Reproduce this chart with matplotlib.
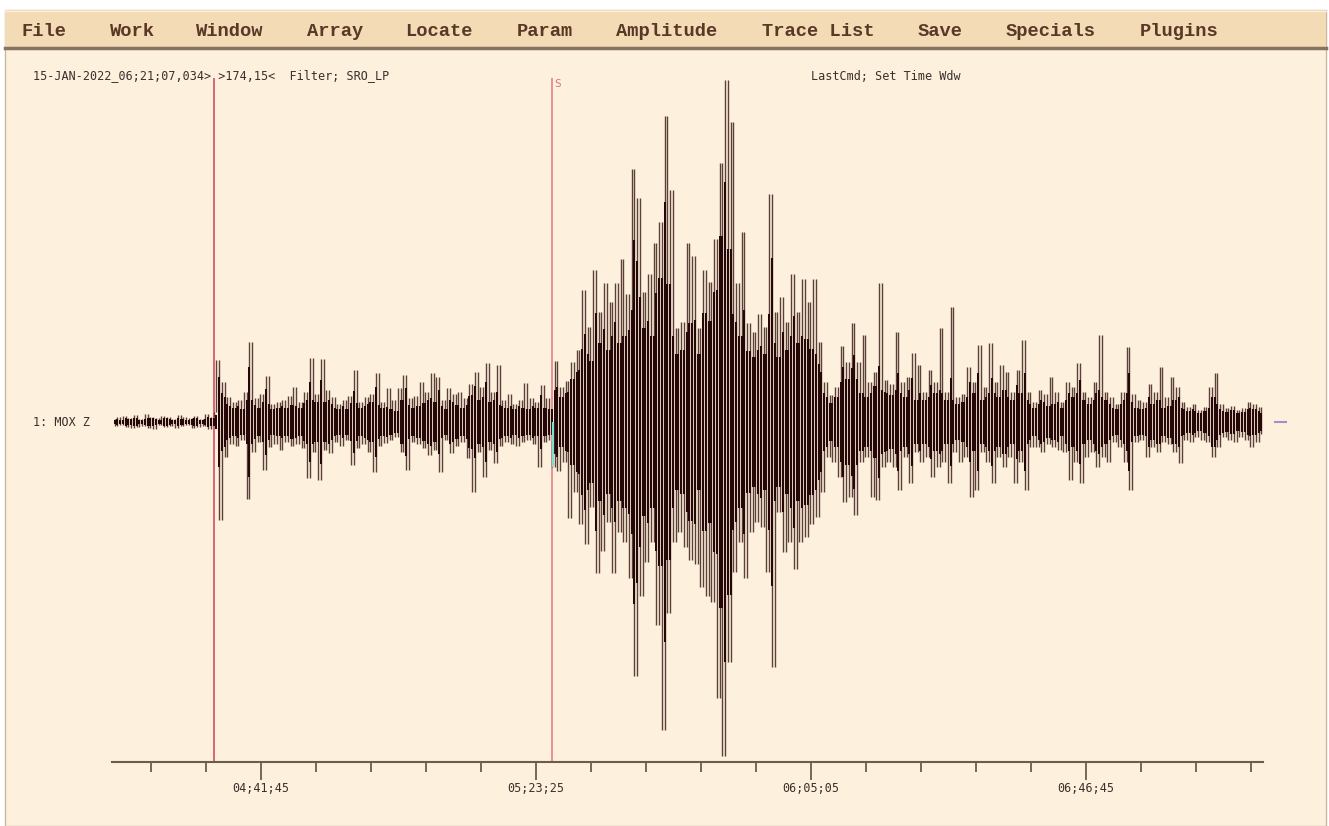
import numpy as np
import matplotlib
matplotlib.use("Agg")
import matplotlib.pyplot as plt
from matplotlib.patches import Rectangle
from matplotlib.lines import Line2D
from matplotlib.ticker import FixedLocator

# ---- data (MOX Z, SRO_LP filtered, amplitude in counts, one sample every 25 s) ----
t_start = 15550          # seconds after midnight (04:19:10)
dt = 25

pre_p = [3, -4, 5, -3, 6, -5, 4, -6, 7, -5, 3, -4, 8, -6, 5, -7, 4, -3, 6, -5,
         5, -4, 3, -6, 7, -4, 5, -3, 4, -6, 6, -5, 3, -4, 8, -7, 5, 10]

p_coda = [62, -98, 40, -35, 25, -22, 20, -24, 22, -18, 30, -77,
          80, -30, 24, -20, 28, -48, 46, -25, 18, -22, 20, -28, 22, -20,
          26, -24, 35, -22, 20, -26, 30, -56, 64, -30, 28, -58, 63, -28,
          32, -31, 25, -20, 18, -24, 22, -18, 26, -43, 52, -26, 20, -22,
          25, -30, 28, -50, 49, -24, 20, -21, 34, -18, 22, -15, 34, -30,
          47, -48, 24, -20, 26, -22, 40, -26, 30, -33, 49, -28, 45, -50,
          22, -18, 34, -31, 28, -24, 30, -20, 24, -36, 38, -70, 50, -30,
          35, -55, 59, -28, 30, -41, 57, -24, 22, -20, 28, -22, 18, -24,
          22, -20, 39, -18, 24, -22, 20, -45, 37, -20, 24, -18]

s_wave = [-45, 61, -49, 35, -40, 41, -96, 60, -70, 72, -102, 132, -122,
          95, -85, 152, -151, 110, -129, 139, -100, 120, -151, 139, -110,
          163, -120, 128, -156, 253, -254, 224, -174, 130, -140, 148, -120,
          179, -203, 200, -308, 306, -191, 232, -120, 94, -110, 100, -125,
          179, -138, 166, -142, 94, -165, 152, -174, 140, -180, 183, -276,
          259, -334, 342, -240, 300, -150, 139, -120, 190, -156, 99, -110,
          90, -100, 108, -105, 95, -150, 228, -245, 110, -90, 125, -130,
          100, -120, 148, -147, 110, -120, 143, -115, 120, -102, 143, -95,
          80, -70, 40, -35, 27, -40, 35, -55, 76, -80, 60, -75, 99, -93]

coda = [60, -40, 87, -35, 40, -75, 50, -78, 139, -45, 42, -40, 38, -45,
        90, -68, 40, -35, 45, -61, 69, -30, 57, -40, 30, -35, 52, -55,
        40, -45, 94, -40, 30, -61, 115, -30, 25, -40, 28, -35, 55, -75,
        40, -68, 77, -30, 35, -40, 79, -61, 40, -35, 57, -45, 50, -35,
        30, -61, 52, -40, 82, -68, 30, -25, 20, -25, 32, -30, 28, -22,
        45, -25, 30, -28, 20, -30, 40, -58, 35, -40, 59, -61, 30, -35,
        25, -30, 40, -45, 87, -35, 30, -40, 25, -20, 18, -25, 30, -40,
        75, -68, 28, -20, 22, -18, 20, -35, 38, -25, 30, -30, 55, -20,
        25, -22, 45, -30, 35, -41, 20, -18, 15, -20, 18, -15, 12, -18,
        15, -20, 35, -35, 49, -25, 18, -15, 14, -18, 16, -20, 12, -15,
        14, -18, 20, -25, 18, -20, 15, -12]

p_time = 16478           # P pick
s_time = 19550           # S pick
major_ticks = [16905, 19405, 21905, 24405]
tick_labels = ['04;41;45', '05;23;25', '06;05;05', '06;46;45']
minor_ticks = [15905, 16405, 17405, 17905, 18405, 18905, 19905, 20405, 20905,
               21405, 22405, 22905, 23405, 23905, 24905, 25405, 25905]

menu_items = ['File', 'Work', 'Window', 'Array', 'Locate', 'Param',
              'Amplitude', 'Trace List', 'Save', 'Specials', 'Plugins']
menu_x = [44, 132, 230, 335, 439, 545, 667, 818, 940, 1051, 1179]

header = '15-JAN-2022_06;21;07,034> >174,15<  Filter; SRO_LP'
last_cmd = 'LastCmd; Set Time Wdw'
trace_name = '1: MOX Z'

# ---- figure ----
W, H = 1329, 826
BG = '#fdf0dd'
fig = plt.figure(figsize=(W / 100, H / 100), dpi=100, facecolor='white')

def fx(px):
    return px / W

def fy(py):
    return 1 - py / H

# window background and menu bar (drawn below the axes)
fig.patches.append(Rectangle((fx(5), 0), fx(1321), 1 - 10 / H, transform=fig.transFigure,
                             facecolor=BG, edgecolor='#c8b8a0', lw=1, zorder=-3))
fig.patches.append(Rectangle((fx(5), fy(48)), fx(1321), 38 / H, transform=fig.transFigure,
                             facecolor='#f3dbb6', edgecolor='none', zorder=-2))
fig.lines.append(Line2D([fx(5), fx(1326)], [fy(48), fy(48)], transform=fig.transFigure,
                        color='#857260', lw=2.5, zorder=-1))
fig.lines.append(Line2D([fx(5), fx(1326)], [fy(11), fy(11)], transform=fig.transFigure,
                        color='#fbeede', lw=1, zorder=-1))

for name, x in zip(menu_items, menu_x):
    fig.text(fx(x), fy(31), name, ha='center', va='center', fontsize=13.5,
             family='Liberation Mono', fontweight='bold', color='#5a3826')

small = dict(family='DejaVu Sans Mono', fontsize=8.5, color='#3a302c')
fig.text(fx(33), fy(76), header, ha='left', va='center', **small)
fig.text(fx(811), fy(76), last_cmd, ha='left', va='center', **small)
fig.text(fx(33), fy(423), trace_name, ha='left', va='center', **small)

# ---- trace axes ----
trace = np.array(pre_p + p_coda + s_wave + coda, dtype=float)
t = t_start + dt * np.arange(len(trace))

ax = fig.add_axes([fx(112), 1 - 762 / H, fx(1151), 692 / H])
ax.set_zorder(5)
ax.set_facecolor('none')
ax.set_xlim(15550, 26014)
ax.set_ylim(-340, 352)

# min/max column rendering, as the seismogram viewer draws decimated traces:
# lighter strokes for the full swing, a dark core where most samples sit
lo = np.minimum(trace[:-1], trace[1:])
hi = np.maximum(trace[:-1], trace[1:])
core = 0.72 * np.minimum(hi, -lo)
ax.vlines(t[1:], lo, hi, color='#5c4038', lw=1.0, zorder=3)
ax.vlines(t[1:], -core, core, color='#250707', lw=1.45, zorder=3.5)

# highlighted segment at the S pick
i_s = int((s_time - t_start) // dt)
ax.vlines(t[i_s:i_s + 1] + 8, trace[i_s], 0, color='#7fe0cf', lw=1.6, zorder=4)

ax.vlines([p_time], -340, 344, color='#d85a6a', lw=1.3, zorder=2)
ax.vlines([s_time], -340, 344, color='#e58a90', lw=1.3, zorder=2)
ax.text(s_time + 20, 338, 'S', color='#e07080', fontsize=8, family='DejaVu Sans Mono',
        ha='left', va='center')

# zero-level marker to the right of the trace
ax.plot([1.01, 1.02], [0, 0], transform=ax.get_yaxis_transform(), color='#a090d0',
        lw=1.5, clip_on=False)

for side in ['left', 'right', 'top']:
    ax.spines[side].set_visible(False)
ax.spines['bottom'].set_color('#6b5c4c')
ax.spines['bottom'].set_linewidth(1.5)
ax.set_yticks([])
ax.xaxis.set_major_locator(FixedLocator(major_ticks))
ax.xaxis.set_minor_locator(FixedLocator(minor_ticks))
ax.set_xticklabels(tick_labels, family='DejaVu Sans Mono', fontsize=8.5, color='#3a302c')
ax.tick_params(axis='x', which='major', direction='out', length=13, width=1.3,
               color='#6b5c4c', pad=1.5)
ax.tick_params(axis='x', which='minor', direction='out', length=7, width=1.3,
               color='#6b5c4c')

fig.savefig('out.png', dpi=100, facecolor='white')
